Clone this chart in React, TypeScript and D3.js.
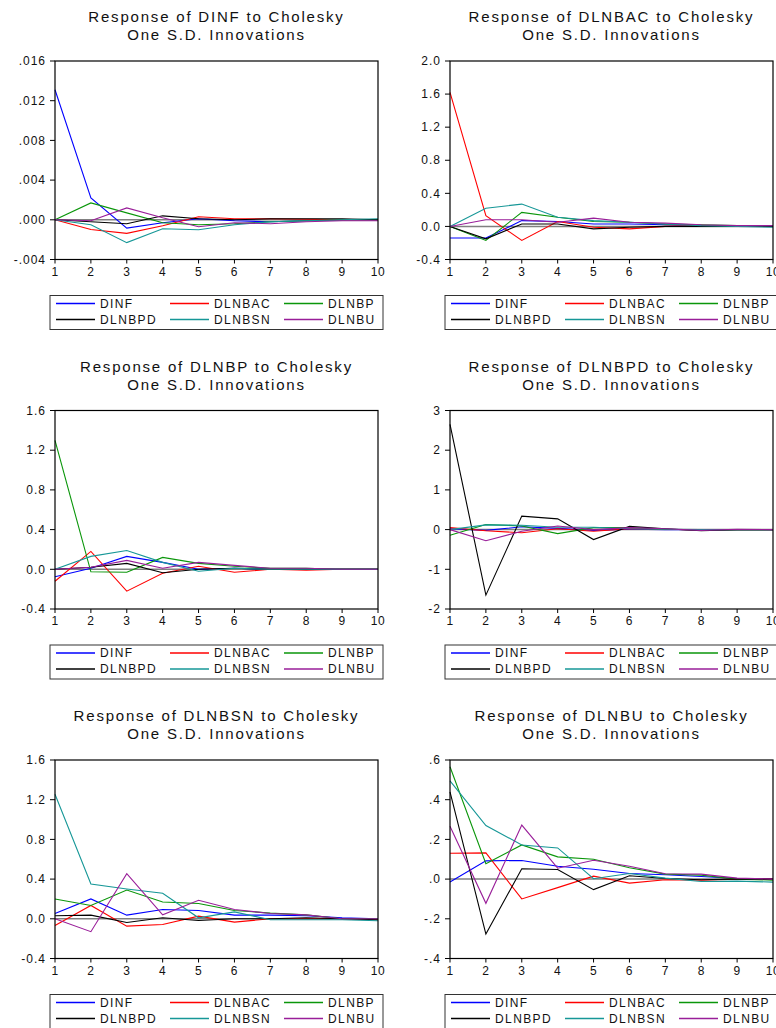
import React from "react";
import * as d3 from "d3";

const periods = [1, 2, 3, 4, 5, 6, 7, 8, 9, 10];
const shockNames = ["DINF", "DLNBAC", "DLNBP", "DLNBPD", "DLNBSN", "DLNBU"];
const shockColors = ["#0000ff", "#ff0000", "#0a960a", "#000000", "#169797", "#991e99"];

// Response of DINF (series order: DINF, DLNBAC, DLNBP, DLNBPD, DLNBSN, DLNBU)
const respDINF = [
  [0.0131, 0.0022, -0.00084, -0.0003, 0.0001, -0.0001, -0.0002, -0.0001, 0.0, 0.0],
  [0.0, -0.00097, -0.00137, -0.0006, 0.0003, 0.0001, 0.0001, 0.00005, 0.0, 0.0],
  [0.0, 0.0017, 0.0007, -0.0003, -0.0005, -0.0004, -0.0002, -0.0001, 0.0, 0.0],
  [0.0, -0.0002, -0.0004, 0.0004, 0.0001, 0.0, 0.0001, 0.0001, 0.0001, 0.0],
  [0.0, -0.0005, -0.0023, -0.0009, -0.001, -0.0005, -0.0002, -0.0001, 0.0, 0.0001],
  [0.0, -0.0001, 0.0012, 0.0002, -0.0007, -0.0003, -0.0004, -0.0002, -0.0001, -0.0001],
];
const respDLNBAC = [
  [-0.14, -0.14, 0.07, 0.06, 0.03, 0.03, 0.02, 0.01, 0.0, 0.0],
  [1.62, 0.13, -0.17, 0.06, -0.01, -0.03, 0.0, 0.01, 0.0, 0.0],
  [0.0, -0.17, 0.17, 0.11, 0.06, 0.05, 0.03, 0.02, 0.01, 0.0],
  [0.0, -0.15, 0.03, 0.03, -0.03, -0.01, 0.0, 0.0, 0.0, 0.0],
  [0.0, 0.22, 0.27, 0.11, 0.07, 0.05, 0.03, 0.01, 0.0, -0.01],
  [0.0, 0.08, 0.08, 0.05, 0.1, 0.05, 0.04, 0.02, 0.01, 0.01],
];
const respDLNBP = [
  [-0.075, 0.01, 0.13, 0.07, 0.0, 0.01, 0.0, 0.0, 0.0, 0.0],
  [-0.12, 0.18, -0.22, -0.04, 0.03, -0.03, 0.0, -0.01, 0.0, 0.0],
  [1.3, -0.025, -0.03, 0.12, 0.06, 0.03, 0.01, 0.01, 0.0, 0.0],
  [0.0, 0.02, 0.06, -0.035, 0.0, 0.01, 0.0, 0.0, 0.0, 0.0],
  [0.0, 0.13, 0.19, 0.07, -0.02, 0.01, 0.0, 0.0, 0.0, 0.0],
  [0.0, 0.02, 0.09, 0.01, 0.07, 0.04, 0.01, 0.01, 0.0, 0.0],
];
const respDLNBPD = [
  [0.02, -0.02, 0.07, 0.03, -0.02, 0.01, 0.0, 0.0, 0.0, 0.0],
  [0.05, -0.03, -0.08, 0.02, -0.04, 0.02, 0.01, -0.01, 0.0, 0.0],
  [-0.14, 0.13, 0.09, -0.1, 0.05, 0.05, 0.01, 0.0, 0.0, 0.0],
  [2.65, -1.65, 0.34, 0.27, -0.25, 0.08, 0.02, -0.03, 0.0, 0.0],
  [0.0, 0.12, 0.11, 0.06, 0.06, 0.02, 0.01, 0.0, 0.0, 0.0],
  [0.0, -0.28, -0.04, 0.09, 0.0, 0.05, 0.02, -0.02, 0.01, 0.0],
];
const respDLNBSN = [
  [0.054, 0.2, 0.037, 0.094, 0.084, 0.037, 0.037, 0.03, 0.01, 0.0],
  [-0.067, 0.134, -0.074, -0.057, 0.027, -0.033, 0.0, 0.0, 0.0, -0.01],
  [0.2, 0.134, 0.29, 0.17, 0.154, 0.084, 0.057, 0.04, 0.0, 0.0],
  [0.03, 0.037, -0.037, 0.01, -0.017, 0.0, 0.0, 0.01, 0.0, -0.01],
  [1.255, 0.35, 0.3, 0.258, 0.01, 0.07, -0.01, -0.01, -0.01, -0.02],
  [0.0, -0.13, 0.455, 0.04, 0.187, 0.094, 0.054, 0.04, 0.0, 0.0],
];
const respDLNBU = [
  [-0.015, 0.092, 0.094, 0.065, 0.05, 0.028, 0.022, 0.013, 0.003, 0.0],
  [0.13, 0.132, -0.1, -0.043, 0.015, -0.02, -0.003, -0.005, 0.0, 0.0],
  [0.566, 0.078, 0.172, 0.112, 0.1, 0.057, 0.025, 0.02, 0.0, -0.005],
  [0.44, -0.277, 0.052, 0.048, -0.053, 0.017, 0.003, -0.003, 0.0, 0.0],
  [0.495, 0.27, 0.172, 0.157, 0.002, 0.028, 0.005, -0.012, -0.01, -0.015],
  [0.266, -0.122, 0.272, 0.055, 0.095, 0.065, 0.027, 0.025, 0.005, 0.0],
];

const ticksDINF = [-0.004, 0, 0.004, 0.008, 0.012, 0.016];
const labelsDINF = ["-.004", ".000", ".004", ".008", ".012", ".016"];
const ticksDLNBAC = [-0.4, 0, 0.4, 0.8, 1.2, 1.6, 2.0];
const labelsDLNBAC = ["-0.4", "0.0", "0.4", "0.8", "1.2", "1.6", "2.0"];
const ticksDLNBP = [-0.4, 0, 0.4, 0.8, 1.2, 1.6];
const labelsDLNBP = ["-0.4", "0.0", "0.4", "0.8", "1.2", "1.6"];
const ticksDLNBPD = [-2, -1, 0, 1, 2, 3];
const labelsDLNBPD = ["-2", "-1", "0", "1", "2", "3"];
const ticksDLNBSN = [-0.4, 0, 0.4, 0.8, 1.2, 1.6];
const labelsDLNBSN = ["-0.4", "0.0", "0.4", "0.8", "1.2", "1.6"];
const ticksDLNBU = [-0.4, -0.2, 0, 0.2, 0.4, 0.6];
const labelsDLNBU = ["-.4", "-.2", ".0", ".2", ".4", ".6"];

const panels = [
  { name: "DINF", data: respDINF, ticks: ticksDINF, labels: labelsDINF, col: 0, row: 0 },
  { name: "DLNBAC", data: respDLNBAC, ticks: ticksDLNBAC, labels: labelsDLNBAC, col: 1, row: 0 },
  { name: "DLNBP", data: respDLNBP, ticks: ticksDLNBP, labels: labelsDLNBP, col: 0, row: 1 },
  { name: "DLNBPD", data: respDLNBPD, ticks: ticksDLNBPD, labels: labelsDLNBPD, col: 1, row: 1 },
  { name: "DLNBSN", data: respDLNBSN, ticks: ticksDLNBSN, labels: labelsDLNBSN, col: 0, row: 2 },
  { name: "DLNBU", data: respDLNBU, ticks: ticksDLNBU, labels: labelsDLNBU, col: 1, row: 2 },
];

const FONT = "'Liberation Sans', Arial, Helvetica, sans-serif";
const colX = [55, 450];
const rowY = [61, 410.5, 760];
const PW = 323;
const PH = 198.5;

function Panel({ p }: { p: (typeof panels)[number] }) {
  const left = colX[p.col];
  const top = rowY[p.row];
  const x = d3.scaleLinear().domain([1, 10]).range([left, left + PW]);
  const y = d3
    .scaleLinear()
    .domain([p.ticks[0], p.ticks[p.ticks.length - 1]])
    .range([top + PH, top]);
  const line = d3
    .line<number>()
    .x((_, i) => x(periods[i]))
    .y((d) => y(d));
  const cx = left + PW / 2;
  const bottom = top + PH;
  const lgLeft = left - 5;
  const colOff = [6, 120, 234];
  return (
    <g>
      <text x={cx} y={top - 39} textAnchor="middle" fontSize={15} letterSpacing={1.8} fill="#111">
        {`Response of ${p.name} to Cholesky`}
      </text>
      <text x={cx} y={top - 21} textAnchor="middle" fontSize={15} letterSpacing={1.8} fill="#111">
        One S.D. Innovations
      </text>
      <line x1={left} x2={left + PW} y1={y(0)} y2={y(0)} stroke="#808080" strokeWidth={1.5} />
      {p.data.map((s, i) => (
        <path key={i} d={line(s) || ""} fill="none" stroke={shockColors[i]} strokeWidth={1.1} />
      ))}
      <rect x={left} y={top} width={PW} height={PH} fill="none" stroke="#000" strokeWidth={1.2} />
      {p.ticks.map((t, i) => (
        <g key={i}>
          <line x1={left - 5} x2={left} y1={y(t)} y2={y(t)} stroke="#000" />
          <text x={left - 9} y={y(t)} dy="0.35em" textAnchor="end" fontSize={12} letterSpacing={1} fill="#111">
            {p.labels[i]}
          </text>
        </g>
      ))}
      {periods.map((t) => (
        <g key={t}>
          <line x1={x(t)} x2={x(t)} y1={bottom} y2={bottom + 4} stroke="#000" />
          <text x={x(t)} y={bottom + 16} textAnchor="middle" fontSize={12} letterSpacing={0.5} fill="#111">
            {t}
          </text>
        </g>
      ))}
      <rect x={lgLeft} y={bottom + 36} width={333} height={34} fill="#fff" stroke="#333" strokeWidth={1} />
      {shockNames.map((n, i) => {
        const c = i % 3;
        const r = Math.floor(i / 3);
        const lx = lgLeft + colOff[c];
        const ly = bottom + 44 + r * 16;
        return (
          <g key={n}>
            <line x1={lx} x2={lx + 39} y1={ly} y2={ly} stroke={shockColors[i]} strokeWidth={1.6} />
            <text x={lx + 44} y={ly} dy="0.36em" fontSize={12} letterSpacing={1.4} fill="#111">
              {n}
            </text>
          </g>
        );
      })}
    </g>
  );
}

export default function App() {
  return (
    <svg
      width={776}
      height={1028}
      style={{ position: "absolute", left: 0, top: 0, display: "block", background: "#fff" }}
      fontFamily={FONT}
    >
      <rect x={0} y={0} width={776} height={1028} fill="#fff" />
      {panels.map((p) => (
        <Panel key={p.name} p={p} />
      ))}
    </svg>
  );
}
